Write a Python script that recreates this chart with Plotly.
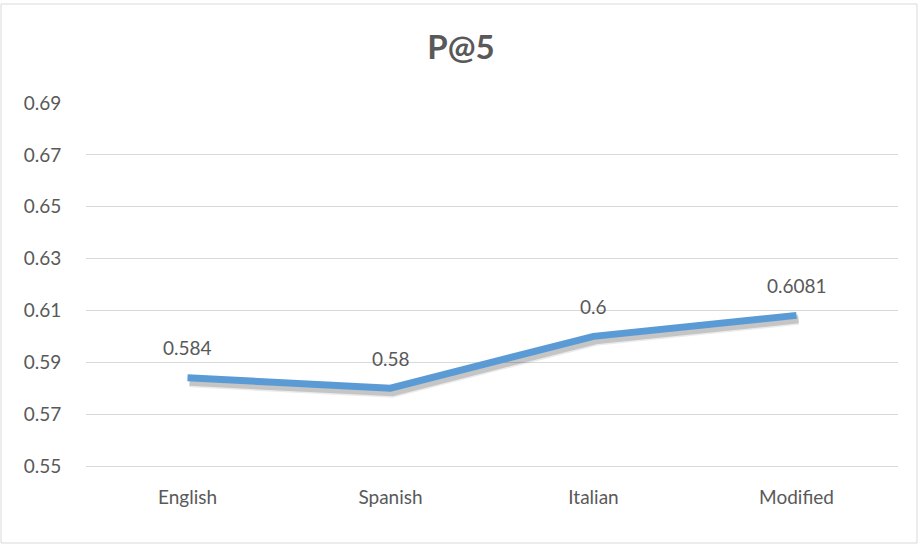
import plotly.graph_objects as go

# P@5 scores per query language
categories = ["English", "Spanish", "Italian", "Modified"]
p_at_5 = [0.584, 0.58, 0.6, 0.6081]
value_labels = ["0.584", "0.58", "0.6", "0.6081"]
y_ticks = [0.55, 0.57, 0.59, 0.61, 0.63, 0.65, 0.67, 0.69]

TEXT = "#595959"
GRID = "#d9d9d9"
LINE = "#5b9bd5"
FONT = "Lato"
FS = 19

W, H = 920, 546
L, R, T, B = 86, 22, 103, 80
plot_w, plot_h = W - L - R, H - T - B

x_range = [-0.5, len(categories) - 0.5]
y_range = [y_ticks[0], y_ticks[-1]]

# pixel offsets for the drop shadow under the series line
dx_px, dy_px = 2, 4
x_per_px = (x_range[1] - x_range[0]) / plot_w
y_per_px = (y_range[1] - y_range[0]) / plot_h
x_shadow = [x_range[0] - dx_px * x_per_px, x_range[1] - dx_px * x_per_px]
y_shadow = [y_range[0] + dy_px * y_per_px, y_range[1] + dy_px * y_per_px]

fig = go.Figure()

# soft shadow (two passes for a blurred edge)
for width, alpha in [(11, 0.08), (8, 0.16)]:
    fig.add_trace(go.Scatter(
        x=categories, y=p_at_5, mode="lines", xaxis="x2", yaxis="y2",
        line=dict(color=f"rgba(0,0,0,{alpha})", width=width, shape="linear"),
        hoverinfo="skip", showlegend=False,
    ))

# main series
fig.add_trace(go.Scatter(
    x=categories, y=p_at_5, mode="lines", xaxis="x3", yaxis="y3",
    line=dict(color=LINE, width=7), showlegend=False,
))

for cat, val, lab in zip(categories, p_at_5, value_labels):
    fig.add_annotation(
        x=cat, y=val, xref="x", yref="y", text=lab, showarrow=False,
        yshift=30, font=dict(family=FONT, size=FS, color=TEXT),
    )

hidden = dict(visible=False, showgrid=False, zeroline=False, fixedrange=True)

fig.update_layout(
    width=W, height=H,
    margin=dict(l=L, r=R, t=T, b=B),
    paper_bgcolor="white", plot_bgcolor="white",
    font=dict(family=FONT, size=FS, color=TEXT),
    title=dict(
        text="<b>P@5</b>", x=461 / W, xanchor="center", xref="container",
        y=1 - 47 / H, yanchor="middle", yref="container",
        font=dict(family=FONT, size=33, color=TEXT),
    ),
    xaxis=dict(
        type="category", categoryorder="array", categoryarray=categories,
        range=x_range, showgrid=False, zeroline=False,
        showline=True, linecolor=GRID, linewidth=1,
        ticks="outside", ticklen=14, tickcolor="rgba(0,0,0,0)",
        tickfont=dict(family=FONT, size=FS, color=TEXT),
    ),
    yaxis=dict(
        range=y_range, tickvals=y_ticks, ticktext=[f"{v:.2f}" for v in y_ticks],
        showgrid=True, gridcolor=GRID, gridwidth=1, zeroline=False,
        showline=False, ticks="outside", ticklen=20, tickcolor="rgba(0,0,0,0)",
        tickfont=dict(family=FONT, size=FS, color=TEXT),
    ),
    xaxis2=dict(type="category", categoryorder="array", categoryarray=categories,
                overlaying="x", range=x_shadow, **hidden),
    yaxis2=dict(overlaying="y", range=y_shadow, **hidden),
    xaxis3=dict(type="category", categoryorder="array", categoryarray=categories,
                overlaying="x", range=x_range, **hidden),
    yaxis3=dict(overlaying="y", range=y_range, **hidden),
)

# chart-area border
fig.add_shape(
    type="rect", xref="paper", yref="paper",
    x0=(1 - L) / plot_w, x1=(917 - L) / plot_w,
    y0=(H - B - 543) / plot_h, y1=(H - B - 4) / plot_h,
    line=dict(color=GRID, width=1), fillcolor="rgba(0,0,0,0)", layer="below",
)

fig.write_html("out.html")
